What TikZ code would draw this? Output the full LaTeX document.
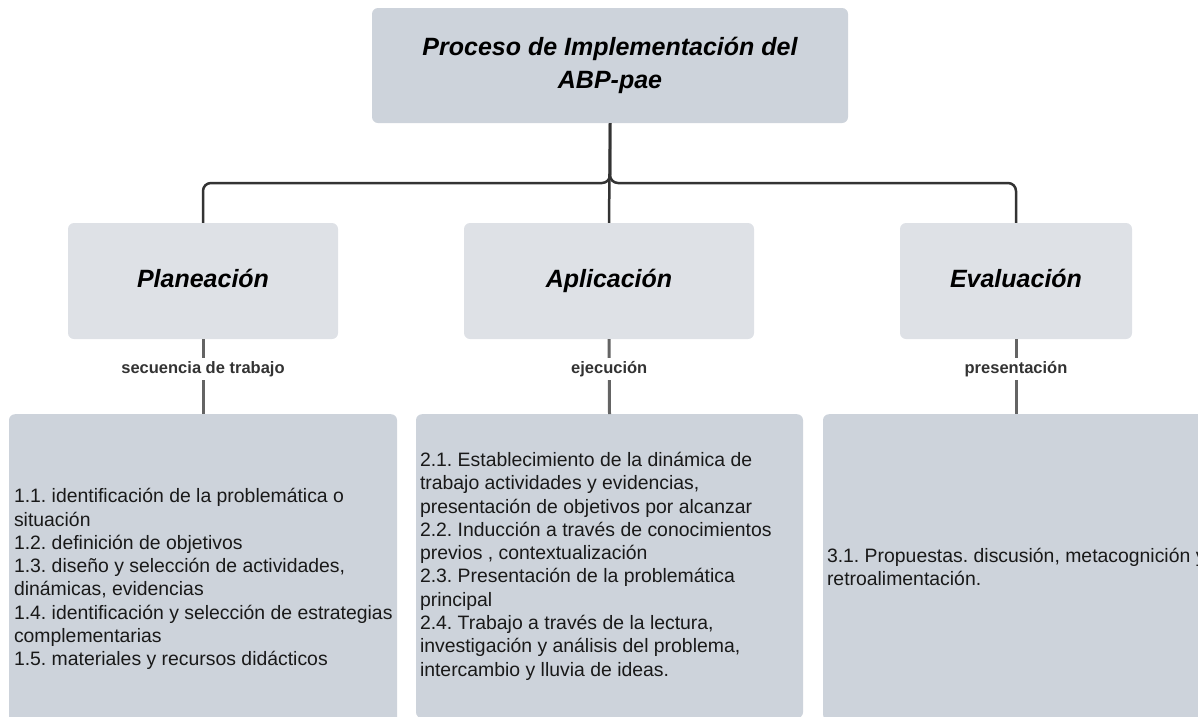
\documentclass[tikz,border=0pt]{standalone}
\usepackage{fontspec}
\setmainfont{Liberation Sans}
\usepackage{tikz}
\usetikzlibrary{positioning,calc}
\tikzset{>=latex}
\usepackage{xcolor}
\frenchspacing

\definecolor{grisbox}{RGB}{205,211,219}
\definecolor{grisclaro}{RGB}{222,225,230}
\definecolor{lineaosc}{RGB}{51,51,51}
\definecolor{lineagris}{RGB}{100,100,100}

\tikzset{
  titulo/.style={fill=grisbox, rounded corners=6pt, minimum width=476pt, minimum height=115pt,
    align=center, font=\fontsize{25}{33}\selectfont\bfseries\itshape},
  fase/.style={fill=grisclaro, rounded corners=6pt, minimum height=116pt,
    text height=18pt, text depth=6pt, font=\fontsize{25}{30}\selectfont\bfseries\itshape},
  detalle/.style={fill=grisbox, rounded corners=6pt, anchor=north},
  texto/.style={align=left, inner sep=0pt, text=black!90, font=\fontsize{19.4}{23.3}\selectfont},
  etiqueta/.style={fill=white, inner sep=3pt, text height=12pt, text depth=4pt,
    text=lineaosc, font=\fontsize{16.5}{20}\selectfont\bfseries},
  rama/.style={draw=lineaosc, line width=2.5pt, rounded corners=8pt},
  enlace/.style={draw=lineagris, line width=3pt}
}

\begin{document}
\begin{tikzpicture}[x=1pt, y=-1pt]

  \clip (0,0) rectangle (1198,716);

  % cabecera
  \node[titulo] (top) at (610,65.5) {Proceso de Implementación del\\ABP-pae};

  % fases
  \node[fase, minimum width=270pt] (plan) at (203,281) {Planeación};
  \node[fase, minimum width=290pt] (apl) at (609,281) {Aplicación};
  \node[fase, minimum width=232pt] (eval) at (1016,281) {Evaluación};

  \coordinate (cruce) at (610,183);
  \draw[rama] (top.south) -- (cruce) -| (plan.north);
  \draw[rama] (top.south) -- (cruce) -| (eval.north);
  \draw[rama] (top.south) -- (apl.north);

  % cajas de detalle
  \node[detalle, minimum width=388pt, minimum height=330pt] (det1) at (203,414) {};
  \node[detalle, minimum width=387pt, minimum height=304pt] (det2) at (609.5,414) {};
  \node[detalle, minimum width=386pt, minimum height=306pt] (det3) at (1016,414) {};

  \foreach \a/\b/\e in {plan/det1/secuencia de trabajo, apl/det2/ejecución, eval/det3/presentación}
    {
      \draw[enlace] (\a.south) -- node[etiqueta, pos=0.4] {\e} (\b.north);
    }

  \node[texto, right=5pt of det1.west] (txt1) {1.1. identificación de la problemática o\\situación\\1.2. definición de objetivos\\1.3. diseño y selección de actividades,\\dinámicas, evidencias\\1.4. identificación y selección de estrategias\\complementarias\\1.5. materiales y recursos didácticos};
  \node[texto, right=4pt of det2.west] (txt2) {2.1. Establecimiento de la dinámica de\\trabajo actividades y evidencias,\\presentación de objetivos por alcanzar\\2.2. Inducción a través de conocimientos\\previos , contextualización\\2.3. Presentación de la problemática\\principal\\2.4. Trabajo a través de la lectura,\\investigación y análisis del problema,\\intercambio y lluvia de ideas.};
  \node[texto, right=4pt of det3.west] (txt3) {3.1. Propuestas. discusión, metacognición y\\retroalimentación.};

\end{tikzpicture}
\end{document}
